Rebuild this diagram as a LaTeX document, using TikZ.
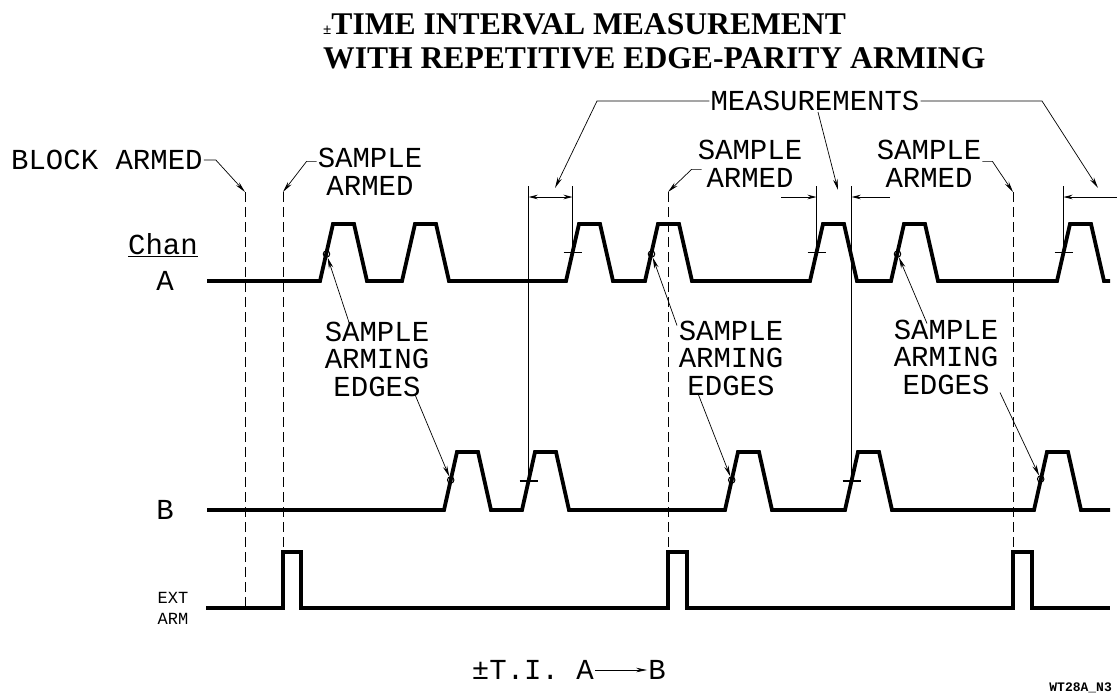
\documentclass[tikz,border=0pt]{standalone}
\usepackage{fontspec}
\usetikzlibrary{arrows.meta,positioning}
\setmainfont{Liberation Serif}
\newfontfamily\plotfont{Liberation Mono}

\tikzset{
  sig/.style={line width=3.8pt, line join=miter},
  armline/.style={line width=1pt, dash pattern=on 10pt off 5pt},
  lead/.style={line width=0.7pt, -{Stealth[length=11pt,width=4.5pt]}},
  meas/.style={line width=0.8pt},
  dimtip/.style={line width=0.8pt, {Stealth[length=9pt,width=4.5pt]}-{Stealth[length=9pt,width=4.5pt]}},
  dimone/.style={line width=0.8pt, -{Stealth[length=9pt,width=4.5pt]}},
  tickmark/.style={line width=1.1pt},
  edgemark/.style={circle, draw, line width=1pt, inner sep=0pt, minimum size=6.5pt},
  lbl/.style={font=\plotfont\fontsize{29}{27.5}\selectfont, inner sep=1pt, align=center},
  smlbl/.style={font=\plotfont\fontsize{17}{21}\selectfont, inner sep=1pt, align=left},
  titlefnt/.style={font=\bfseries\fontsize{31.6}{36}\selectfont, inner sep=0pt}
}

\begin{document}
\begin{tikzpicture}[x=1pt,y=-1pt]
\useasboundingbox (0,0) rectangle (1117,694);

% title
\node[titlefnt, anchor=base west] (title1) at (323,34)
  {{\fontsize{15}{15}\selectfont ±}TIME INTERVAL MEASUREMENT};
\node[titlefnt, anchor=base west] (title2) at (323,68)
  {WITH REPETITIVE EDGE-PARITY ARMING};

% channel names
\node[lbl] (chan) at (163,245) {\underline{Chan}};
\node[lbl] (chA) at (165,281) {A};
\node[lbl] (chB) at (165,510) {B};
\node[smlbl] (chE) at (173,608) {EXT\\ARM};

% signals
\draw[sig] (207,281) foreach \s in {320,402,566,645,810,891,1057}
  {-- (\s,281) -- (\s+13,224) -- (\s+34,224) -- (\s+47,281)} -- (1110,281);
\draw[sig] (207,510) foreach \s in {444,522,725,845,1034}
  {-- (\s,510) -- (\s+13,452) -- (\s+34,452) -- (\s+47,510)} -- (1110,510);
\draw[sig] (206,608) foreach \s/\e in {283/301,668/687,1013/1032}
  {-- (\s,608) -- (\s,552) -- (\e,552) -- (\e,608)} -- (1110,608);

% arming lines
\foreach \n/\x/\b in {blk/245/606, arm1/283/552, arm2/668/552, arm3/1013/552}
  {\coordinate (\n) at (\x,192); \draw[armline] (\n) -- (\x,\b);}

% sample arming edges
\foreach \n/\x/\y in {ea1/326.5/254, ea4/651.5/254, ea6/897.5/254,
                     eb1/450.7/480, eb3/731.7/480, eb5/1040.7/479}
  \node[edgemark] (\n) at (\x,\y) {};

% measured edges
\foreach \n/\x/\y in {ta3/572.5/252.5, ta5/816.5/252.5, ta7/1063.5/252.5,
                     tb2/528.7/481, tb4/851.7/481}
  {\coordinate (\n) at (\x,\y); \draw[tickmark] ([xshift=-9pt]\n) -- ([xshift=9pt]\n);}

\coordinate (mtop) at (0,186);
\coordinate (mrow) at (0,197);
\foreach \n in {tb2,ta3,ta5,tb4,ta7}
  \draw[meas] (\n) -- (\n |- mtop);
\draw[dimtip] (tb2 |- mrow) -- (ta3 |- mrow);
\coordinate (m2l) at (781,197);
\coordinate (m2r) at (890,197);
\coordinate (m3r) at (1117,197);
\draw[dimone] (m2l) -- (ta5 |- mrow);
\draw[dimone] (m2r) -- (tb4 |- mrow);
\draw[dimone] (m3r) -- (ta7 |- mrow);

% labels
\node[lbl, anchor=west] (blocklbl) at (10,160) {BLOCK ARMED};
\node[lbl] (sa1) at (370,172) {SAMPLE\\ARMED};
\node[lbl] (sa2) at (750,164) {SAMPLE\\ARMED};
\node[lbl] (sa3) at (929,164) {SAMPLE\\ARMED};
\node[lbl] (meas) at (815,101) {MEASUREMENTS};
\node[lbl] (se1) at (377,359) {SAMPLE\\ARMING\\EDGES};
\node[lbl] (se2) at (731,358) {SAMPLE\\ARMING\\EDGES};
\node[lbl] (se3) at (946,357) {SAMPLE\\ARMING\\EDGES};

\draw[lead] (blocklbl.east) -- ++(12,0) -- (blk);
\draw[lead] ([yshift=-14pt]sa1.north west) -- ++(-10,0) -- (arm1);
\draw[lead] ([xshift=5pt,yshift=-30pt]sa2.north west) -- ++(-10,0) -- (arm2);
\draw[lead] ([yshift=-22pt]sa3.north east) -- ++(10,0) -- (arm3);

\coordinate (mk1) at (555,188);
\coordinate (mk2) at (838,190);
\coordinate (mk3) at (1098,188);
\draw[lead] (meas.west) -- (597,101) -- (mk1);
\draw[lead] ([xshift=3pt]meas.south) -- (mk2);
\draw[lead] (meas.east) -- (1042,101) -- (mk3);

\draw[lead] ([xshift=-27pt,yshift=-5pt]se1.north) -- (ea1);
\draw[lead] ([xshift=38pt,yshift=3pt]se1.south) -- (eb1);
\draw[lead] ([xshift=-54pt,yshift=-6pt]se2.north) -- (ea4);
\draw[lead] ([xshift=-33pt,yshift=3pt]se2.south) -- (eb3);
\draw[lead] ([xshift=-19pt,yshift=-5pt]se3.north) -- (ea6);
\draw[lead] ([xshift=54pt,yshift=3pt]se3.south) -- (eb5);

% bottom caption
\node[lbl, anchor=east] (tia) at (595,670) {±T.I. A};
\node[lbl] (tib) at (657,670) {B};
\draw[lead] (tia) -- (tib);
\node[font=\plotfont\bfseries\fontsize{13}{13}\selectfont, anchor=east, inner sep=0pt] (ref) at (1112,688) {WT28A\_N3};
\end{tikzpicture}
\end{document}
